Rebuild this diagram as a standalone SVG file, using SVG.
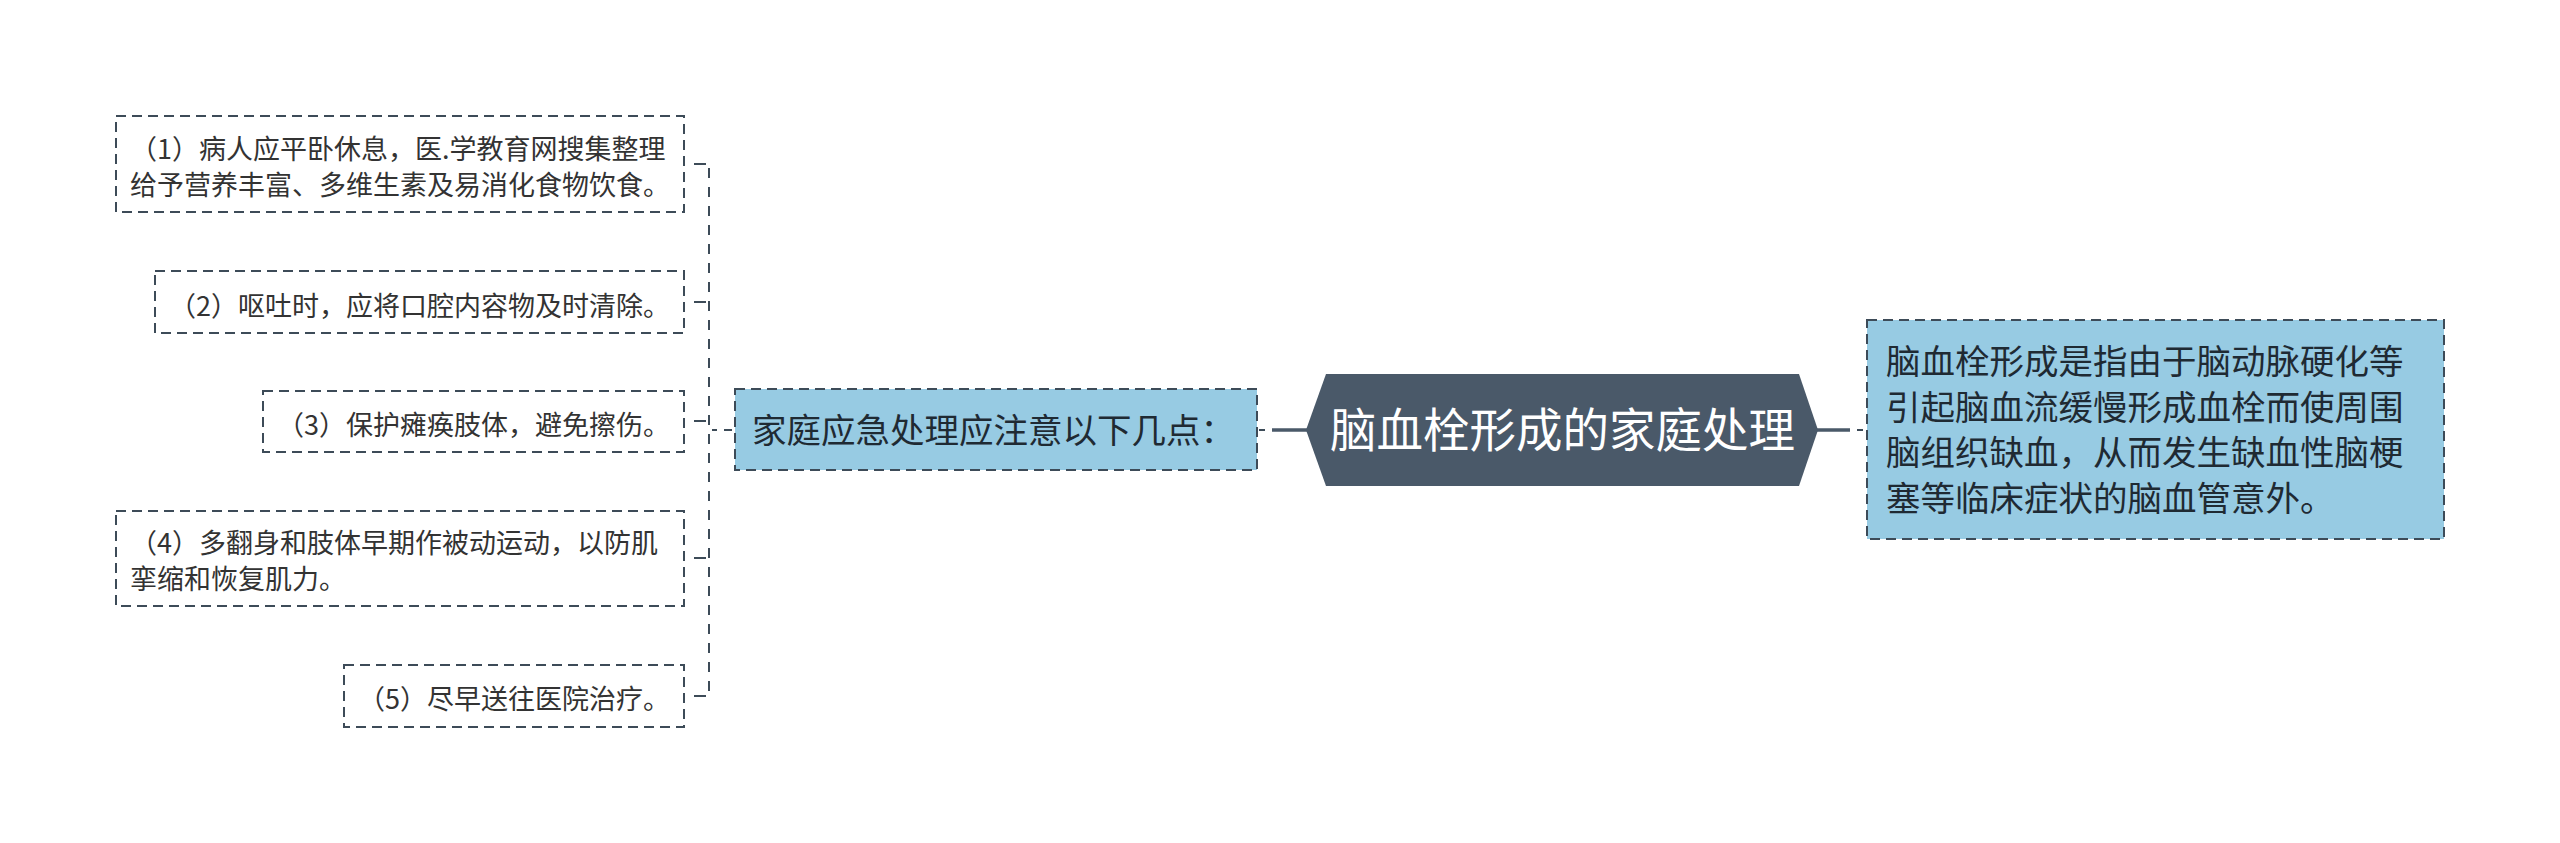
<svg xmlns="http://www.w3.org/2000/svg" width="2560" height="843" viewBox="0 0 2560 843">
<style>
.t{font-family:"Noto Sans CJK SC","Noto Sans",sans-serif}
.box{fill:#ffffff;stroke:#3d4b58;stroke-width:2;stroke-dasharray:10 6}
.blue{fill:#97cbe3}
.s{font-size:27px;fill:#333333}
.m{font-size:34.5px;fill:#1f2a33}
.b{font-size:46.5px;fill:#ffffff}
.c{stroke:#3d4b58;stroke-width:2;fill:none}
.d{stroke-dasharray:10 9}
.k{stroke:#4a5969;stroke-width:3.5;fill:none}
</style>
<rect x="0" y="0" width="2560" height="843" fill="#ffffff"/>
<g id="connectors">
  <path class="c d" d="M709 168 V696"/>
  <path class="c" d="M694 164 H706"/>
  <path class="c" d="M694 302 H706"/>
  <path class="c" d="M694 421 H706"/>
  <path class="c" d="M694 558 H706"/>
  <path class="c" d="M694 696 H706"/>
  <path class="c" d="M712 430 H717 M724 430 H732"/>
  <path class="c" d="M1259 430 H1265"/>
  <path class="k" d="M1272 430 H1308"/>
  <path class="k" d="M1816 430 H1850"/>
  <path class="c" d="M1857 430 H1863"/>
</g>
<g id="item1">
  <rect class="box" x="116" y="116" width="568" height="96"/>
  <text class="t s" x="130" y="159">（1）病人应平卧休息，医.学教育网搜集整理</text>
  <text class="t s" x="130" y="195">给予营养丰富、多维生素及易消化食物饮食。</text>
</g>
<g id="item2">
  <rect class="box" x="155" y="271" width="529" height="62"/>
  <text class="t s" x="169" y="316">（2）呕吐时，应将口腔内容物及时清除。</text>
</g>
<g id="item3">
  <rect class="box" x="263" y="391" width="421" height="61"/>
  <text class="t s" x="277" y="435">（3）保护瘫痪肢体，避免擦伤。</text>
</g>
<g id="item4">
  <rect class="box" x="116" y="511" width="568" height="95"/>
  <text class="t s" x="130" y="553">（4）多翻身和肢体早期作被动运动，以防肌</text>
  <text class="t s" x="130" y="589">挛缩和恢复肌力。</text>
</g>
<g id="item5">
  <rect class="box" x="344" y="665" width="340" height="62"/>
  <text class="t s" x="358" y="709">（5）尽早送往医院治疗。</text>
</g>
<g id="branch">
  <rect class="box blue" x="735" y="389" width="522" height="81"/>
  <text class="t m" x="752" y="443">家庭应急处理应注意以下几点：</text>
</g>
<g id="root">
  <polygon points="1306,430 1326,374 1799,374 1818,430 1799,486 1326,486" fill="#4a5969"/>
  <text class="t b" x="1562.5" y="447" text-anchor="middle">脑血栓形成的家庭处理</text>
</g>
<g id="definition">
  <rect class="box blue" x="1867" y="320" width="577" height="219"/>
  <text class="t m" x="1886" y="374">脑血栓形成是指由于脑动脉硬化等</text>
  <text class="t m" x="1886" y="420">引起脑血流缓慢形成血栓而使周围</text>
  <text class="t m" x="1886" y="465">脑组织缺血，从而发生缺血性脑梗</text>
  <text class="t m" x="1886" y="511">塞等临床症状的脑血管意外。</text>
</g>
</svg>
